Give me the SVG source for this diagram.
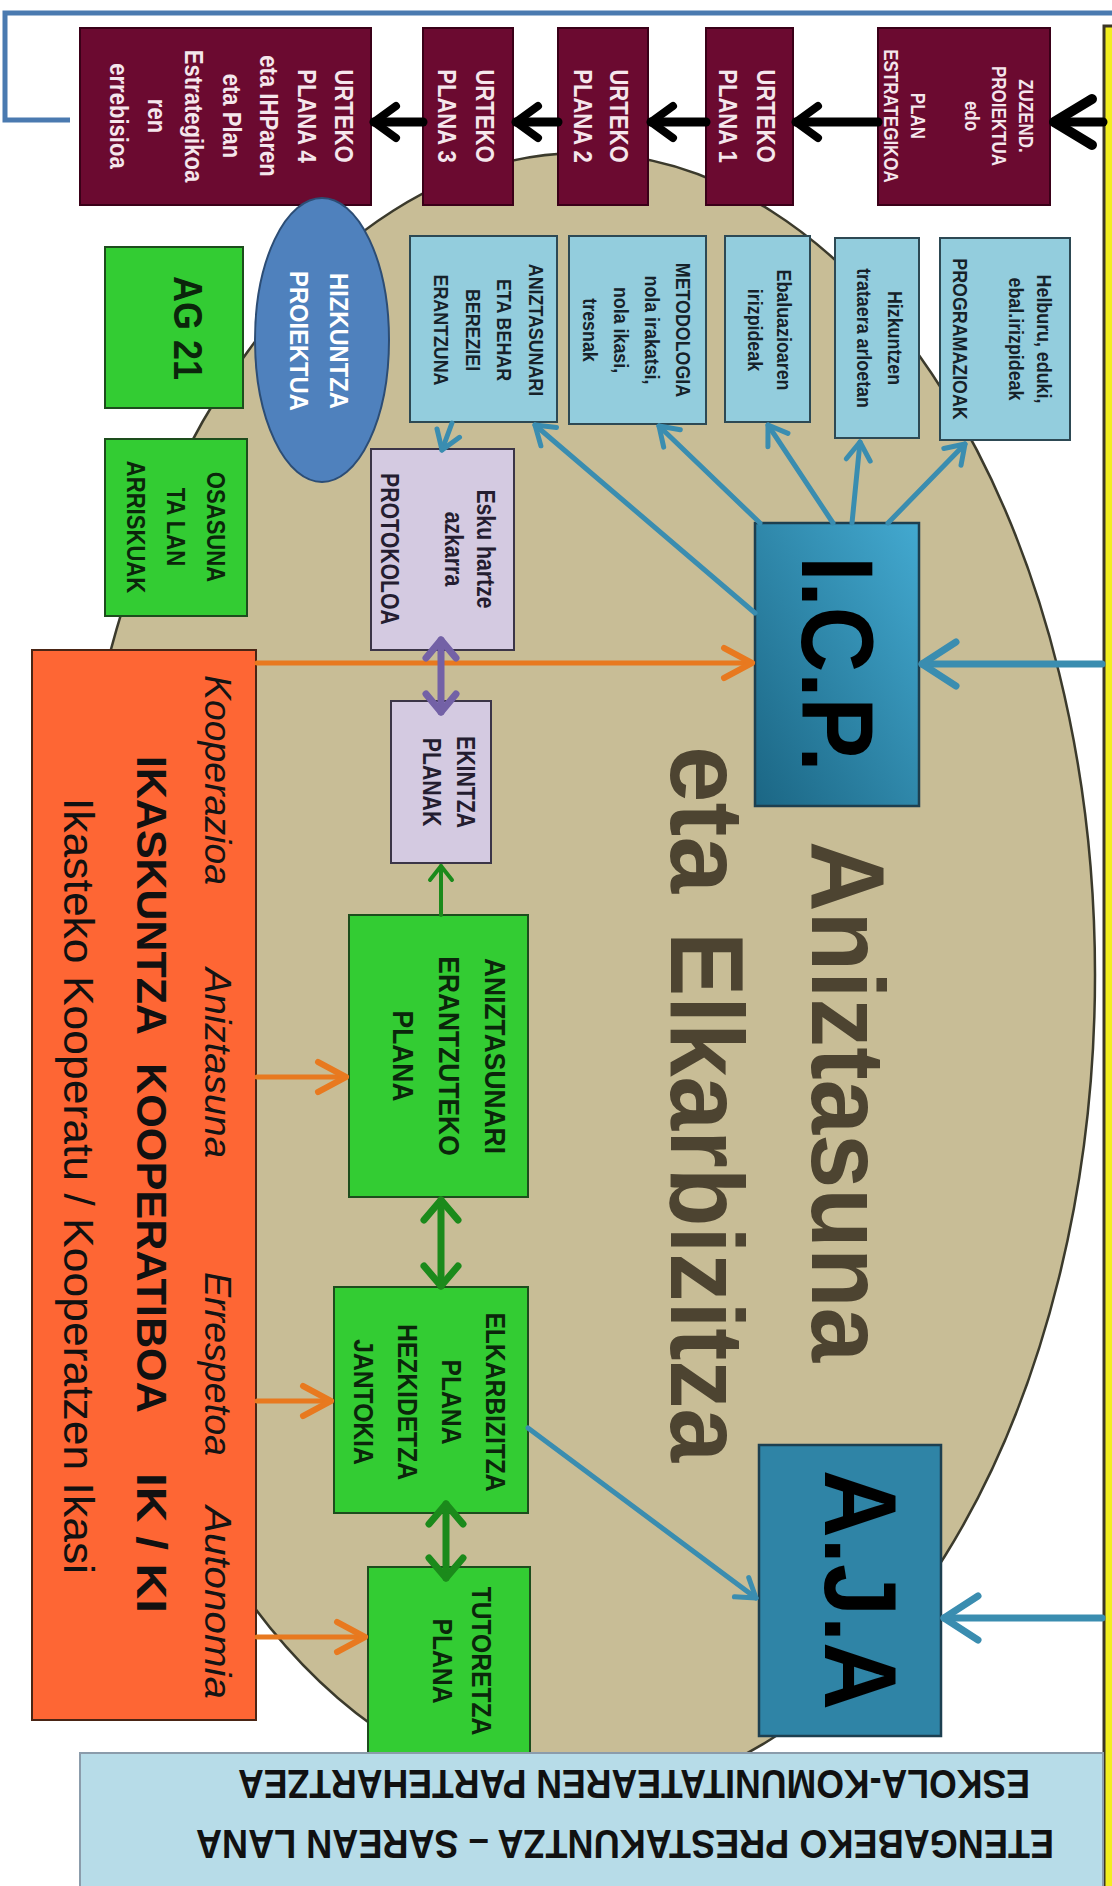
<svg xmlns="http://www.w3.org/2000/svg" width="1112" height="1886" viewBox="0 0 1112 1886">
<defs>
<style>
.f{font-family:"Liberation Sans",Arial,sans-serif}
.t{font-family:"Liberation Sans",Arial,sans-serif;font-weight:bold;text-anchor:middle;dominant-baseline:central}
.mt{fill:#f5e6ec;font-size:26px}
.mt2{fill:#f5e6ec;font-size:20px}
.bt{fill:#16222a;font-size:21px}
.gt{fill:#0b260b}
.lt{fill:#241d30;font-size:25px}
.maroon{fill:#6b0a30;stroke:#3a0018;stroke-width:2}
.lblue{fill:#93cddd;stroke:#2d4954;stroke-width:2}
.green{fill:#33cc33;stroke:#1d4d1d;stroke-width:2}
.lav{fill:#d4cae1;stroke:#3b3547;stroke-width:2}
.blk{stroke:#000;stroke-width:9}
.blu{stroke:#3a8db0;stroke-width:5}
.bluB{stroke:#3a8db0;stroke-width:7}
.org{stroke:#e8791f;stroke-width:5}
.grn{stroke:#1b8a1b;stroke-width:7}
.grnS{stroke:#1b8a1b;stroke-width:4}
.pur{stroke:#7361a6;stroke-width:7}
</style>
<linearGradient id="icpGrad" x1="0" y1="1" x2="1" y2="0">
<stop offset="0" stop-color="#1b6684"/>
<stop offset="1" stop-color="#43a9d0"/>
</linearGradient>
<marker id="mBlkBig" viewBox="-50 -30 60 60" markerWidth="60" markerHeight="60" refX="0" refY="0" markerUnits="userSpaceOnUse" orient="auto">
<path d="M-38,-23 L0,0 L-38,23" fill="none" stroke="#000" stroke-width="10" stroke-linecap="round" stroke-linejoin="round"/>
</marker>
<marker id="mBlk" viewBox="-35 -25 45 50" markerWidth="45" markerHeight="50" refX="0" refY="0" markerUnits="userSpaceOnUse" orient="auto">
<path d="M-22,-16 L0,0 L-22,16" fill="none" stroke="#000" stroke-width="8" stroke-linecap="round" stroke-linejoin="round"/>
</marker>
<marker id="mBlueBig" viewBox="-45 -30 55 60" markerWidth="55" markerHeight="60" refX="0" refY="0" markerUnits="userSpaceOnUse" orient="auto">
<path d="M-34,-22 L0,0 L-34,22" fill="none" stroke="#3a8db0" stroke-width="7" stroke-linecap="round" stroke-linejoin="round"/>
</marker>
<marker id="mBlue" viewBox="-28 -20 38 40" markerWidth="38" markerHeight="40" refX="0" refY="0" markerUnits="userSpaceOnUse" orient="auto">
<path d="M-18,-12 L0,0 L-18,12" fill="none" stroke="#3a8db0" stroke-width="5" stroke-linecap="round" stroke-linejoin="round"/>
</marker>
<marker id="mOrg" viewBox="-38 -22 48 44" markerWidth="48" markerHeight="44" refX="0" refY="0" markerUnits="userSpaceOnUse" orient="auto">
<path d="M-28,-15 L0,0 L-28,15" fill="none" stroke="#e8791f" stroke-width="6" stroke-linecap="round" stroke-linejoin="round"/>
</marker>
<marker id="mGrn" viewBox="-30 -26 40 52" markerWidth="40" markerHeight="52" refX="0" refY="0" markerUnits="userSpaceOnUse" orient="auto-start-reverse">
<path d="M-20,-17 L0,0 L-20,17" fill="none" stroke="#1b8a1b" stroke-width="7" stroke-linecap="round" stroke-linejoin="round"/>
</marker>
<marker id="mGrnS" viewBox="-24 -18 34 36" markerWidth="34" markerHeight="36" refX="0" refY="0" markerUnits="userSpaceOnUse" orient="auto">
<path d="M-14,-11 L0,0 L-14,11" fill="none" stroke="#1b8a1b" stroke-width="4" stroke-linecap="round" stroke-linejoin="round"/>
</marker>
<marker id="mPur" viewBox="-30 -26 40 52" markerWidth="40" markerHeight="52" refX="0" refY="0" markerUnits="userSpaceOnUse" orient="auto-start-reverse">
<path d="M-18,-15 L0,0 L-18,15" fill="none" stroke="#7361a6" stroke-width="7" stroke-linecap="round" stroke-linejoin="round"/>
</marker>
</defs>

<rect x="0" y="0" width="1112" height="1886" fill="#ffffff"/>

<g id="background-ellipse">
<ellipse cx="582" cy="975" rx="513" ry="822" fill="#c8bd96" stroke="#3b3a2c" stroke-width="2.5"/>
</g>

<g id="right-frame">
<rect x="1104" y="26" width="20" height="1880" fill="#f2ee1e" stroke="#3b3526" stroke-width="3"/>
</g>

<!-- Top row: maroon planning boxes -->
<g id="node-zuzend">
<rect class="maroon" x="878" y="28" width="172" height="177"/>
<text class="t mt2" transform="translate(959.5,116) rotate(90) scale(0.85,1)"><tspan x="0" dy="-67.5">ZUZEND.</tspan><tspan x="0" dy="27">PROIEKTUA</tspan><tspan x="0" dy="27">edo</tspan><tspan x="0" dy="54">PLAN</tspan><tspan x="0" dy="27">ESTRATEGIKOA</tspan></text>
</g>
<g id="node-urteko1">
<rect class="maroon" x="706" y="28" width="87" height="177"/>
<text class="t mt" transform="translate(748,116) rotate(90) scale(0.85,1)"><tspan x="0" dy="-19">URTEKO</tspan><tspan x="0" dy="38">PLANA 1</tspan></text>
</g>
<g id="node-urteko2">
<rect class="maroon" x="558" y="28" width="90" height="177"/>
<text class="t mt" transform="translate(602,116) rotate(90) scale(0.85,1)"><tspan x="0" dy="-18">URTEKO</tspan><tspan x="0" dy="36">PLANA 2</tspan></text>
</g>
<g id="node-urteko3">
<rect class="maroon" x="423" y="28" width="90" height="177"/>
<text class="t mt" transform="translate(467,116) rotate(90) scale(0.85,1)"><tspan x="0" dy="-19">URTEKO</tspan><tspan x="0" dy="38">PLANA 3</tspan></text>
</g>
<g id="node-urteko4">
<rect class="maroon" x="80" y="28" width="291" height="177"/>
<text class="t mt" transform="translate(232.5,116) rotate(90) scale(0.85,1)"><tspan x="0" dy="-112.5">URTEKO</tspan><tspan x="0" dy="37.5">PLANA 4</tspan><tspan x="0" dy="37.5">eta IHParen</tspan><tspan x="0" dy="37.5">eta Plan</tspan><tspan x="0" dy="37.5">Estrategikoa</tspan><tspan x="0" dy="37.5">ren</tspan><tspan x="0" dy="37.5">errebisioa</tspan></text>
</g>

<!-- Light blue boxes -->
<g id="node-programazioak">
<rect class="lblue" x="940" y="238" width="130" height="202"/>
<text class="t bt" transform="translate(1003,339) rotate(90) scale(0.85,1)"><tspan x="0" dy="-42">Helburu, eduki,</tspan><tspan x="0" dy="28">ebal.irizpideak</tspan><tspan x="0" dy="56">PROGRAMAZIOAK</tspan></text>
</g>
<g id="node-hizkuntzen">
<rect class="lblue" x="835" y="238" width="84" height="200"/>
<text class="t bt" transform="translate(880,338) rotate(90) scale(0.85,1)"><tspan x="0" dy="-15.5">Hizkuntzen</tspan><tspan x="0" dy="31">trataera arloetan</tspan></text>
</g>
<g id="node-ebaluazioa">
<rect class="lblue" x="725" y="236" width="85" height="186"/>
<text class="t bt" transform="translate(770,330) rotate(90) scale(0.85,1)"><tspan x="0" dy="-14.5">Ebaluazioaren</tspan><tspan x="0" dy="29">irizpideak</tspan></text>
</g>
<g id="node-metodologia">
<rect class="lblue" x="569" y="236" width="137" height="188"/>
<text class="t bt" transform="translate(637.5,330) rotate(90) scale(0.85,1)"><tspan x="0" dy="-46.5">METODOLOGIA</tspan><tspan x="0" dy="31">nola irakatsi,</tspan><tspan x="0" dy="31">nola ikasi,</tspan><tspan x="0" dy="31">tresnak</tspan></text>
</g>
<g id="node-aniztasunari-erantzuna">
<rect class="lblue" x="410" y="236" width="147" height="186"/>
<text class="t bt" transform="translate(489,330) rotate(90) scale(0.85,1)"><tspan x="0" dy="-47.25">ANIZTASUNARI</tspan><tspan x="0" dy="31.5">ETA BEHAR</tspan><tspan x="0" dy="31.5">BEREZIEI</tspan><tspan x="0" dy="31.5">ERANTZUNA</tspan></text>
</g>

<!-- Left side -->
<g id="node-hizkuntza-proiektua">
<ellipse cx="322" cy="340" rx="67" ry="142" fill="#4f81bd" stroke="#2c4d75" stroke-width="2"/>
<text class="t" fill="#ffffff" font-size="25" transform="translate(319,341) rotate(90) scale(0.95,1)"><tspan x="0" dy="-20">HIZKUNTZA</tspan><tspan x="0" dy="40">PROIEKTUA</tspan></text>
</g>
<g id="node-ag21">
<rect class="green" x="105" y="247" width="138" height="161"/>
<text class="t gt" font-size="40" transform="translate(188,328) rotate(90) scale(0.9,1)">AG 21</text>
</g>
<g id="node-osasuna">
<rect class="green" x="105" y="439" width="142" height="177"/>
<text class="t gt" font-size="26" transform="translate(177,527) rotate(90) scale(0.85,1)"><tspan x="0" dy="-40">OSASUNA</tspan><tspan x="0" dy="40">TA LAN</tspan><tspan x="0" dy="40">ARRISKUAK</tspan></text>
</g>
<g id="node-protokoloa">
<rect class="lav" x="371" y="449" width="143" height="201"/>
<text class="t lt" transform="translate(438,549) rotate(90) scale(0.85,1)"><tspan x="0" dy="-48">Esku hartze</tspan><tspan x="0" dy="32">azkarra</tspan><tspan x="0" dy="64">PROTOKOLOA</tspan></text>
</g>
<g id="node-ekintza">
<rect class="lav" x="391" y="701" width="100" height="162"/>
<text class="t lt" font-size="24" transform="translate(449,782) rotate(90) scale(0.85,1)"><tspan x="0" dy="-17">EKINTZA</tspan><tspan x="0" dy="34">PLANAK</tspan></text>
</g>

<!-- Central blue boxes -->
<g id="node-icp">
<rect x="755" y="523" width="164" height="283" fill="url(#icpGrad)" stroke="#1d3f4f" stroke-width="2.5"/>
<text class="t" fill="#000" font-size="102" transform="translate(837,664) rotate(90) scale(0.89,1)">I.C.P.</text>
</g>
<g id="node-aja">
<rect x="759" y="1445" width="182" height="291" fill="#2f84a6" stroke="#1c3f50" stroke-width="2.5"/>
<text class="t" fill="#000" font-size="102" transform="translate(860,1590) rotate(90) scale(0.92,1)">A.J.A</text>
</g>

<!-- Title -->
<g id="title" class="f" font-weight="bold" font-size="104" fill="#4d4431">
<g transform="translate(812,0) rotate(90)">
<text x="841" y="0" textLength="521" lengthAdjust="spacingAndGlyphs">Aniztasuna</text>
</g>
<g transform="translate(671,0) rotate(90)">
<text x="746" y="0" textLength="147" lengthAdjust="spacingAndGlyphs">eta</text>
<text x="932" y="0" textLength="530" lengthAdjust="spacingAndGlyphs">Elkarbizitza</text>
</g>
</g>

<!-- Green plan boxes -->
<g id="node-aniztasunari-plana">
<rect class="green" x="349" y="915" width="179" height="282"/>
<text class="t gt" font-size="30" transform="translate(450,1056) rotate(90) scale(0.88,1)"><tspan x="0" dy="-46">ANIZTASUNARI</tspan><tspan x="0" dy="46">ERANTZUTEKO</tspan><tspan x="0" dy="46">PLANA</tspan></text>
</g>
<g id="node-elkarbizitza">
<rect class="green" x="334" y="1287" width="194" height="226"/>
<text class="t gt" font-size="28" transform="translate(430,1402) rotate(90) scale(0.88,1)"><tspan x="0" dy="-66">ELKARBIZITZA</tspan><tspan x="0" dy="44">PLANA</tspan><tspan x="0" dy="44">HEZKIDETZA</tspan><tspan x="0" dy="44">JANTOKIA</tspan></text>
</g>
<g id="node-tutoretza">
<rect class="green" x="368" y="1567" width="162" height="186"/>
<text class="t gt" font-size="28" transform="translate(462,1661) rotate(90) scale(0.88,1)"><tspan x="0" dy="-19.5">TUTORETZA</tspan><tspan x="0" dy="39">PLANA</tspan></text>
</g>

<!-- Orange box -->
<g id="node-ikaskuntza-kooperatiboa">
<rect x="32" y="650" width="224" height="1070" fill="#fe6634" stroke="#4a2515" stroke-width="2"/>
<g class="f" transform="translate(205,0) rotate(90)" font-style="italic" font-size="37" fill="#141414">
<text x="675" y="0" textLength="210" lengthAdjust="spacingAndGlyphs">Kooperazioa</text>
<text x="968" y="0" textLength="190" lengthAdjust="spacingAndGlyphs">Aniztasuna</text>
<text x="1272" y="0" textLength="184" lengthAdjust="spacingAndGlyphs">Errespetoa</text>
<text x="1506" y="0" textLength="193" lengthAdjust="spacingAndGlyphs">Autonomia</text>
</g>
<g class="f" transform="translate(137,0) rotate(90)" font-weight="bold" font-size="43" fill="#111">
<text x="756" y="0" textLength="279" lengthAdjust="spacingAndGlyphs">IKASKUNTZA</text>
<text x="1063" y="0" textLength="350" lengthAdjust="spacingAndGlyphs">KOOPERATIBOA</text>
<text x="1473" y="0" textLength="140" lengthAdjust="spacingAndGlyphs">IK / KI</text>
</g>
<g class="f" transform="translate(64,0) rotate(90)" font-size="42" fill="#111">
<text x="798" y="0" textLength="776" lengthAdjust="spacingAndGlyphs">Ikasteko Kooperatu / Kooperatzen Ikasi</text>
</g>
</g>

<!-- Bottom band -->
<g id="node-bottom-band">
<rect x="80" y="1753" width="1023" height="140" fill="#b7dce8" stroke="#8b9cab" stroke-width="2"/>
<text class="f" font-weight="bold" font-size="40" fill="#111" transform="translate(1030,1770) rotate(180)" textLength="792" lengthAdjust="spacingAndGlyphs">ESKOLA-KOMUNITATEAREN PARTEHARTZEA</text>
<text class="f" font-weight="bold" font-size="40" fill="#111" transform="translate(1054,1830) rotate(180)" textLength="858" lengthAdjust="spacingAndGlyphs">ETENGABEKO PRESTAKUNTZA – SAREAN LANA</text>
</g>

<!-- Connectors -->
<g id="connectors" fill="none" stroke-linecap="round">
<line class="blk" x1="1103" y1="122" x2="1054" y2="122" stroke-width="10" marker-end="url(#mBlkBig)"/>
<line class="blk" x1="878" y1="122" x2="796" y2="122" stroke-width="8" marker-end="url(#mBlk)"/>
<line class="blk" x1="706" y1="122" x2="651" y2="122" stroke-width="8" marker-end="url(#mBlk)"/>
<line class="blk" x1="558" y1="122" x2="516" y2="122" stroke-width="8" marker-end="url(#mBlk)"/>
<line class="blk" x1="423" y1="122" x2="374" y2="122" stroke-width="8" marker-end="url(#mBlk)"/>

<line class="bluB" x1="1102" y1="664" x2="922" y2="664" marker-end="url(#mBlueBig)"/>
<line class="bluB" x1="1102" y1="1618" x2="944" y2="1618" marker-end="url(#mBlueBig)"/>
<line class="blu" x1="528" y1="1428" x2="756" y2="1598" marker-end="url(#mBlue)"/>
<line class="blu" x1="888" y1="523" x2="965" y2="444" marker-end="url(#mBlue)"/>
<line class="blu" x1="852" y1="523" x2="860" y2="442" marker-end="url(#mBlue)"/>
<line class="blu" x1="833" y1="523" x2="768" y2="425" marker-end="url(#mBlue)"/>
<line class="blu" x1="760" y1="523" x2="659" y2="426" marker-end="url(#mBlue)"/>
<line class="blu" x1="755" y1="613" x2="535" y2="425" marker-end="url(#mBlue)"/>
<line class="blu" x1="452" y1="423" x2="442" y2="450" marker-end="url(#mBlue)"/>

<line class="org" x1="257" y1="663" x2="752" y2="663" marker-end="url(#mOrg)"/>
<line class="org" x1="257" y1="1077" x2="346" y2="1077" marker-end="url(#mOrg)"/>
<line class="org" x1="257" y1="1401" x2="331" y2="1401" marker-end="url(#mOrg)"/>
<line class="org" x1="257" y1="1637" x2="365" y2="1637" marker-end="url(#mOrg)"/>

<line class="grnS" x1="441" y1="915" x2="441" y2="866" marker-end="url(#mGrnS)"/>
<line class="grn" x1="441" y1="1200" x2="441" y2="1286" marker-start="url(#mGrn)" marker-end="url(#mGrn)"/>
<line class="grn" x1="446" y1="1504" x2="446" y2="1578" marker-start="url(#mGrn)" marker-end="url(#mGrn)"/>

<line class="pur" x1="441" y1="640" x2="441" y2="712" marker-start="url(#mPur)" marker-end="url(#mPur)"/>
</g>

<g id="top-bracket">
<path d="M1112,13 H5 V120 H70" fill="none" stroke="#4a7ab0" stroke-width="5"/>
</g>
</svg>
